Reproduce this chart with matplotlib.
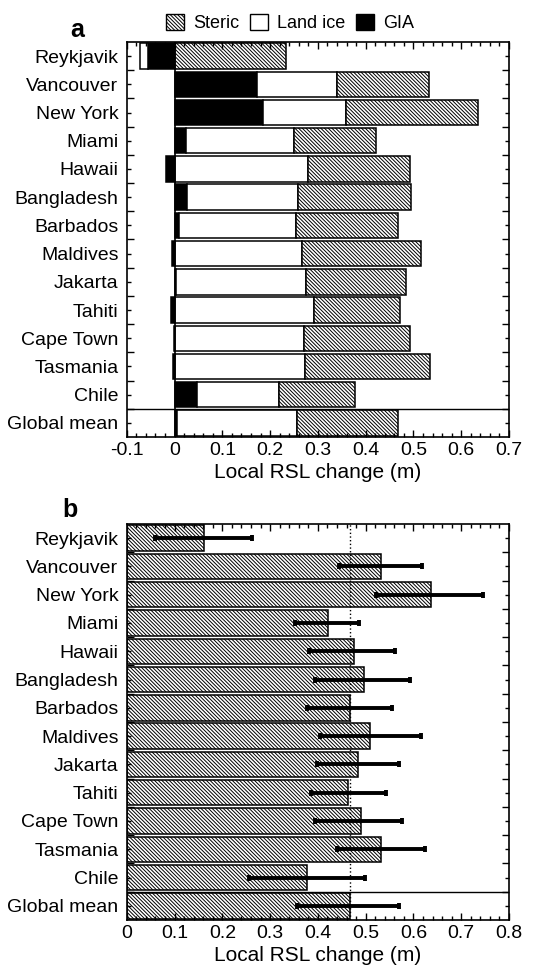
import matplotlib.pyplot as plt
import numpy as np
from matplotlib.patches import Patch
from matplotlib.ticker import MultipleLocator, FixedLocator

plt.rcParams['font.family'] = ['Liberation Sans', 'DejaVu Sans']
plt.rcParams['hatch.linewidth'] = 0.7

# Dados
places = ['Reykjavik', 'Vancouver', 'New York', 'Miami', 'Hawaii', 'Bangladesh',
          'Barbados', 'Maldives', 'Jakarta', 'Tahiti', 'Cape Town', 'Tasmania',
          'Chile', 'Global mean']
gia = [-0.056, 0.172, 0.186, 0.023, -0.017, 0.027, 0.010, -0.005, 0.003,
       -0.008, -0.002, -0.003, 0.047, 0.006]
land_ice = [-0.016, 0.168, 0.173, 0.228, 0.280, 0.232, 0.245, 0.266, 0.272,
            0.292, 0.270, 0.272, 0.172, 0.251]
steric = [0.233, 0.192, 0.277, 0.170, 0.212, 0.237, 0.212, 0.249, 0.209,
          0.179, 0.222, 0.263, 0.158, 0.211]
err_low = [0.059, 0.444, 0.521, 0.352, 0.382, 0.394, 0.377, 0.404, 0.398,
           0.385, 0.394, 0.440, 0.255, 0.356]
err_high = [0.262, 0.617, 0.746, 0.486, 0.561, 0.593, 0.555, 0.615, 0.570,
            0.542, 0.577, 0.624, 0.498, 0.570]

y = np.arange(len(places))
total = np.array(gia) + np.array(land_ice) + np.array(steric)
hatch = '\\' * 9
bar_h = 0.9


def style_axes(ax, xmin, xmax):
    ax.set_xlim(xmin, xmax)
    ax.set_ylim(len(places) - 0.5, -0.5)
    ax.set_yticks(y)
    ax.set_yticklabels(places, fontsize=14)
    ax.yaxis.set_minor_locator(FixedLocator(y[:-1] + 0.5))
    ax.xaxis.set_major_locator(MultipleLocator(0.1))
    ax.xaxis.set_minor_locator(MultipleLocator(0.02))
    ax.xaxis.set_major_formatter(lambda v, p: '0' if abs(v) < 1e-9 else f'{v:.1f}')
    ax.tick_params(axis='both', which='both', direction='in', top=True, right=True, width=1)
    ax.tick_params(axis='x', which='major', length=5, labelsize=14)
    ax.tick_params(axis='x', which='minor', length=3)
    ax.tick_params(axis='y', which='major', length=3, pad=6)
    ax.tick_params(axis='y', which='minor', length=5)
    ax.set_xlabel('Local RSL change (m)', fontsize=15, labelpad=3)
    for s in ax.spines.values():
        s.set_linewidth(1.2)
    ax.axhline(len(places) - 1.5, color='black', lw=1)


fig = plt.figure(figsize=(5.42, 9.69), dpi=100)
ax1 = fig.add_axes([0.234, 0.549, 0.705, 0.4077])
ax2 = fig.add_axes([0.234, 0.0506, 0.705, 0.4087])

# Painel a: empilhamento separado para valores positivos e negativos
pos = np.zeros(len(places))
neg = np.zeros(len(places))
for vals, face, h in [(gia, 'black', None), (land_ice, 'white', None), (steric, 'white', hatch)]:
    vals = np.array(vals)
    left = np.where(vals >= 0, pos, neg)
    ax1.barh(y, vals, left=left, height=bar_h, color=face, edgecolor='black',
             linewidth=1.1, hatch=h)
    pos = pos + np.where(vals >= 0, vals, 0)
    neg = neg + np.where(vals < 0, vals, 0)
ax1.axvline(0, color='black', lw=1.2)
style_axes(ax1, -0.1, 0.7)

# Painel b: total com barras de erro
ax2.barh(y, total, height=bar_h, color='white', edgecolor='black', linewidth=1.1, hatch=hatch)
xerr = [total - np.array(err_low), np.array(err_high) - total]
ax2.errorbar(total, y, xerr=xerr, fmt='none', ecolor='black', elinewidth=2.8,
             capsize=2.5, capthick=2.8)
ax2.axvline(total[-1], color='black', lw=1, linestyle=':')
style_axes(ax2, 0, 0.8)

handles = [Patch(facecolor='white', edgecolor='black', hatch=hatch, label='Steric'),
           Patch(facecolor='white', edgecolor='black', label='Land ice'),
           Patch(facecolor='black', edgecolor='black', label='GIA')]
fig.legend(handles=handles, loc='center', bbox_to_anchor=(0.535, 0.976), ncol=3,
           frameon=False, fontsize=13, handlelength=1.0, handleheight=1.0,
           handletextpad=0.5, columnspacing=0.6)

fig.text(0.142, 0.969, 'a', fontsize=18, fontweight='bold', ha='center', va='center')
fig.text(0.129, 0.474, 'b', fontsize=18, fontweight='bold', ha='center', va='center')

plt.savefig('out.png', dpi=100)
